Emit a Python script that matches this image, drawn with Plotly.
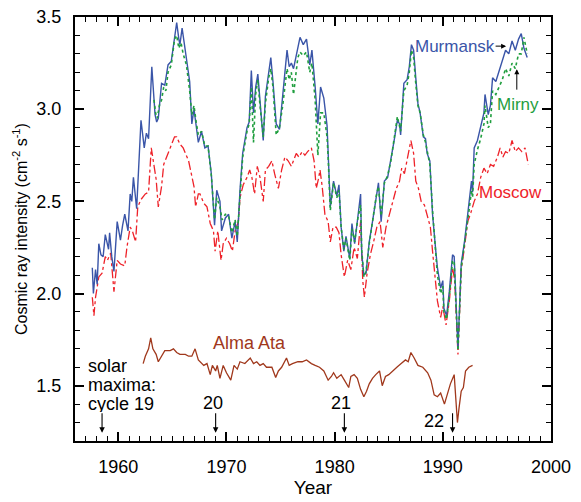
import plotly.graph_objects as go

# ---------------- data ----------------
mur_year = [1957.6, 1957.7, 1957.9, 1958.05, 1958.2, 1958.4, 1958.6, 1958.8, 1959.1, 1959.2, 1959.4, 1959.6,
            1959.9, 1960.2, 1960.4, 1960.6, 1960.9, 1961.1, 1961.25, 1961.4, 1961.7, 1961.9, 1962.1, 1962.4,
            1962.6, 1962.8, 1963.1, 1963.4, 1963.55, 1963.7, 1964.0, 1964.3, 1964.6, 1964.9, 1965.25, 1965.4,
            1965.6, 1965.7, 1965.9, 1966.1, 1966.3, 1966.6, 1966.8, 1967.0, 1967.2, 1967.4, 1967.7, 1968.0,
            1968.3, 1968.6, 1968.9, 1969.1, 1969.4, 1969.55, 1969.9, 1970.2, 1970.5, 1970.8, 1971.0, 1971.25,
            1971.5, 1971.9, 1972.1, 1972.3, 1972.5, 1972.7, 1972.9, 1973.1, 1973.4, 1973.6, 1973.9, 1974.1,
            1974.3, 1974.6, 1974.9, 1975.2, 1975.4, 1975.6, 1975.8, 1976.0, 1976.2, 1976.6, 1976.8, 1977.1,
            1977.4, 1977.7, 1977.9, 1978.2, 1978.45, 1978.7, 1979.0, 1979.3, 1979.4, 1979.6, 1979.9, 1980.2,
            1980.4, 1980.6, 1980.85, 1981.05, 1981.4, 1981.6, 1981.85, 1982.15, 1982.4, 1982.5, 1982.7, 1982.9,
            1983.2, 1983.5, 1983.85, 1984.05, 1984.3, 1984.6, 1984.9, 1985.2, 1985.5, 1985.8, 1986.0, 1986.1,
            1986.4, 1986.7, 1986.9, 1987.1, 1987.3, 1987.5, 1987.7, 1987.9, 1988.2, 1988.4, 1988.55, 1988.8,
            1989.05, 1989.35, 1989.5, 1989.8, 1990.0, 1990.1, 1990.35, 1990.6, 1990.9, 1991.05, 1991.2, 1991.4,
            1991.7, 1992.0, 1992.3, 1992.4, 1992.65, 1992.75, 1992.9, 1993.2, 1993.5, 1993.8, 1993.9, 1994.2,
            1994.4, 1994.6, 1994.9, 1995.2, 1995.5, 1995.8, 1996.1, 1996.4, 1996.7, 1997.0, 1997.25, 1997.5,
            1997.8]
mur_val = [2.14, 2.00, 2.13, 2.05, 2.27, 2.21, 2.20, 2.32, 2.24, 2.33, 2.20, 2.12,
           2.39, 2.29, 2.37, 2.43, 2.34, 2.54, 2.50, 2.63, 2.46, 2.70, 2.94, 2.79,
           2.87, 2.84, 3.23, 2.97, 2.93, 2.95, 3.14, 3.13, 3.24, 3.26, 3.43, 3.47,
           3.38, 3.35, 3.44, 3.36, 3.28, 3.15, 2.92, 3.00, 2.91, 2.82, 2.88, 2.79,
           2.80, 2.65, 2.37, 2.56, 2.50, 2.34, 2.41, 2.43, 2.30, 2.39, 2.28, 2.56,
           2.76, 2.90, 2.93, 3.21, 2.98, 3.12, 3.19, 3.04, 2.83, 3.07, 3.21, 3.28,
           3.15, 2.92, 2.89, 3.06, 3.21, 3.32, 3.23, 3.25, 3.22, 3.34, 3.39, 3.35,
           3.38, 3.24, 3.32, 3.12, 2.92, 3.12, 3.06, 2.91, 2.76, 2.47, 2.61, 2.53,
           2.59, 2.36, 2.23, 2.31, 2.19, 2.38, 2.27, 2.43, 2.54, 2.22, 2.10, 2.11,
           2.28, 2.39, 2.54, 2.60, 2.39, 2.61, 2.63, 2.72, 2.83, 2.94, 2.92, 2.86,
           3.14, 3.16, 3.23, 3.35, 3.32, 3.17, 3.03, 2.98, 2.85, 2.84, 2.76, 2.72,
           2.43, 2.23, 2.14, 2.03, 2.07, 1.92, 1.88, 2.01, 2.21, 2.20, 1.99, 1.70,
           2.16, 2.28, 2.43, 2.48, 2.61, 2.55, 2.79, 2.83, 2.90, 2.98, 3.08, 2.97,
           3.02, 3.17, 3.15, 3.21, 3.26, 3.32, 3.30, 3.37, 3.32, 3.38, 3.41, 3.33,
           3.28]

mir_year = [1963.3, 1963.45, 1963.6, 1963.8, 1964.0, 1964.2, 1964.4, 1964.6, 1964.9, 1965.2, 1965.4, 1965.6,
            1965.8, 1966.0, 1966.3, 1966.6, 1966.8, 1967.0, 1967.2, 1967.4, 1967.7, 1968.0, 1968.3, 1968.6,
            1968.9, 1969.1, 1969.4, 1969.6, 1969.9, 1970.2, 1970.5, 1970.8, 1971.0, 1971.25, 1971.5, 1971.9,
            1972.1, 1972.3, 1972.5, 1972.7, 1972.9, 1973.1, 1973.4, 1973.6, 1973.9, 1974.1, 1974.3, 1974.6,
            1974.9, 1975.2, 1975.4, 1975.6, 1975.8, 1976.0, 1976.2, 1976.6, 1976.8, 1977.1, 1977.4, 1977.7,
            1977.9, 1978.2, 1978.45, 1978.7, 1979.0, 1979.3, 1979.4, 1979.6, 1979.9, 1980.2, 1980.4, 1980.6,
            1980.85, 1981.05, 1981.4, 1981.6, 1981.85, 1982.15, 1982.4, 1982.5, 1982.7, 1982.9, 1983.2, 1983.5,
            1983.85, 1984.05, 1984.3, 1984.6, 1984.9, 1985.2, 1985.5, 1985.8, 1986.1, 1986.4, 1986.7, 1986.9,
            1987.1, 1987.3, 1987.5, 1987.7, 1987.9, 1988.2, 1988.4, 1988.55, 1988.8, 1989.05, 1989.35, 1989.5,
            1989.8, 1990.0, 1990.1, 1990.35, 1990.6, 1990.9, 1991.05, 1991.2, 1991.4, 1991.7, 1992.0, 1992.3,
            1992.4, 1992.65, 1992.75, 1992.9, 1993.2, 1993.5, 1993.8, 1993.9, 1994.2, 1994.4, 1994.6, 1994.9,
            1995.2, 1995.5, 1995.8, 1996.1, 1996.4, 1996.7, 1997.0, 1997.25, 1997.5, 1997.8]
mir_val = [3.05, 2.98, 2.95, 3.02, 3.05, 3.12, 3.10, 3.20, 3.24, 3.38, 3.40, 3.33,
           3.36, 3.30, 3.24, 3.10, 2.97, 3.02, 2.93, 2.86, 2.88, 2.80, 2.80, 2.64,
           2.40, 2.52, 2.47, 2.40, 2.43, 2.42, 2.33, 2.40, 2.31, 2.54, 2.74, 2.88,
           2.92, 3.12, 2.82, 3.08, 3.16, 3.02, 2.85, 3.03, 3.17, 3.22, 3.12, 2.86,
           2.90, 3.02, 3.14, 3.22, 3.16, 3.20, 3.08, 3.28, 3.31, 3.29, 3.31, 3.20,
           3.25, 3.05, 2.75, 2.98, 2.98, 2.85, 2.74, 2.45, 2.60, 2.52, 2.56, 2.36,
           2.24, 2.30, 2.18, 2.35, 2.28, 2.41, 2.48, 2.24, 2.09, 2.12, 2.27, 2.40,
           2.53, 2.58, 2.42, 2.60, 2.64, 2.72, 2.85, 2.96, 2.88, 3.10, 3.13, 3.20,
           3.32, 3.28, 3.14, 3.02, 2.98, 2.86, 2.82, 2.77, 2.70, 2.45, 2.20, 2.10,
           2.00, 2.04, 1.90, 1.86, 1.98, 2.18, 2.17, 1.97, 1.69, 2.14, 2.26, 2.40,
           2.44, 2.56, 2.52, 2.70, 2.78, 2.84, 2.92, 3.02, 2.90, 2.92, 3.10, 3.08,
           3.12, 3.16, 3.22, 3.18, 3.25, 3.22, 3.30, 3.30, 3.39, 3.30]

mos_year = [1957.6, 1957.75, 1957.9, 1958.2, 1958.5, 1958.8, 1959.0, 1959.3, 1959.6, 1959.9, 1960.2, 1960.6,
            1960.8, 1961.1, 1961.3, 1961.6, 1961.8, 1962.1, 1962.5, 1962.8, 1963.05, 1963.3, 1963.5, 1963.7,
            1964.0, 1964.2, 1964.5, 1964.8, 1965.2, 1965.4, 1965.7, 1966.0, 1966.5, 1966.75, 1967.0, 1967.15,
            1967.4, 1967.55, 1967.9, 1968.2, 1968.5, 1968.8, 1968.95, 1969.2, 1969.5, 1969.7, 1970.0, 1970.3,
            1970.55, 1970.8, 1971.1, 1971.25, 1971.55, 1971.9, 1972.15, 1972.35, 1972.6, 1972.85, 1973.1, 1973.4,
            1973.6, 1973.9, 1974.2, 1974.45, 1974.8, 1975.1, 1975.4, 1975.7, 1976.0, 1976.45, 1976.7, 1977.0,
            1977.25, 1977.5, 1977.85, 1978.1, 1978.3, 1978.5, 1978.65, 1978.85, 1979.1, 1979.4, 1979.6, 1979.85,
            1980.15, 1980.4, 1980.6, 1980.9, 1981.2, 1981.5, 1981.8, 1982.1, 1982.4, 1982.6, 1982.75, 1983.0,
            1983.3, 1983.6, 1983.9, 1984.2, 1984.45, 1984.75, 1985.05, 1985.35, 1985.7, 1986.0, 1986.2, 1986.45,
            1986.75, 1987.05, 1987.3, 1987.5, 1987.75, 1988.0, 1988.3, 1988.6, 1988.85, 1989.05, 1989.3, 1989.5,
            1989.8, 1990.0, 1990.3, 1990.6, 1990.9, 1991.1, 1991.4, 1991.7, 1992.0, 1992.3, 1992.6, 1992.9,
            1993.2, 1993.5, 1993.8, 1994.1, 1994.4, 1994.7, 1995.05, 1995.3, 1995.55, 1995.8, 1996.1, 1996.4,
            1996.7, 1997.0, 1997.3, 1997.6, 1997.9]
mos_val = [1.98, 1.88, 1.98, 2.09, 2.11, 2.20, 2.18, 2.22, 2.01, 2.18, 2.16, 2.15,
           2.25, 2.36, 2.34, 2.28, 2.47, 2.51, 2.54, 2.55, 2.79, 2.70, 2.62, 2.47,
           2.58, 2.70, 2.74, 2.79, 2.85, 2.85, 2.81, 2.79, 2.72, 2.64, 2.58, 2.47,
           2.54, 2.54, 2.49, 2.47, 2.38, 2.34, 2.23, 2.34, 2.18, 2.27, 2.30, 2.27,
           2.23, 2.34, 2.39, 2.52, 2.59, 2.63, 2.67, 2.63, 2.54, 2.69, 2.63, 2.50,
           2.67, 2.69, 2.72, 2.65, 2.57, 2.67, 2.74, 2.72, 2.69, 2.76, 2.74, 2.77,
           2.75, 2.77, 2.79, 2.72, 2.57, 2.62, 2.67, 2.58, 2.43, 2.39, 2.28, 2.36,
           2.36, 2.33, 2.21, 2.09, 2.18, 2.13, 2.25, 2.19, 2.39, 2.07, 1.98, 2.11,
           2.21, 2.28, 2.36, 2.39, 2.25, 2.36, 2.43, 2.50, 2.57, 2.61, 2.68, 2.65,
           2.74, 2.83, 2.76, 2.61, 2.57, 2.50, 2.48, 2.41, 2.36, 2.23, 2.07, 1.96,
           1.87, 1.93, 1.83, 1.96, 2.14, 2.07, 1.67, 2.13, 2.25, 2.39, 2.44, 2.50,
           2.54, 2.63, 2.68, 2.65, 2.70, 2.69, 2.74, 2.79, 2.74, 2.77, 2.76, 2.83,
           2.77, 2.79, 2.77, 2.79, 2.70]

alm_year = [1962.3, 1962.4, 1962.5, 1962.8, 1963.0, 1963.2, 1963.5, 1963.7, 1964.0, 1964.3, 1964.8, 1965.1,
            1965.4, 1965.7, 1966.2, 1966.5, 1966.8, 1967.1, 1967.4, 1967.9, 1968.2, 1968.5, 1968.7, 1969.0,
            1969.15, 1969.4, 1969.7, 1970.0, 1970.4, 1970.7, 1971.0, 1971.25, 1971.7, 1972.2, 1972.5, 1972.8,
            1973.1, 1973.4, 1973.7, 1974.2, 1974.55, 1974.8, 1975.1, 1975.55, 1975.8, 1976.1, 1976.6, 1977.0,
            1977.4, 1977.85, 1978.2, 1978.6, 1979.0, 1979.4, 1979.7, 1979.9, 1980.2, 1980.6, 1980.9, 1981.3,
            1981.5, 1981.8, 1982.1, 1982.4, 1982.7, 1982.95, 1983.2, 1983.5, 1983.8, 1984.15, 1984.4, 1984.7,
            1985.0, 1985.35, 1985.75, 1986.15, 1986.55, 1986.8, 1987.05, 1987.35, 1987.7, 1988.15, 1988.6, 1988.9,
            1989.2, 1989.5, 1989.8, 1990.15, 1990.45, 1990.7, 1991.05, 1991.2, 1991.35, 1991.5, 1991.7, 1991.9,
            1992.1, 1992.4, 1992.75]
alm_val = [1.62, 1.64, 1.66, 1.70, 1.76, 1.70, 1.67, 1.63, 1.66, 1.69, 1.69, 1.70,
           1.68, 1.67, 1.67, 1.66, 1.66, 1.70, 1.64, 1.61, 1.62, 1.56, 1.61, 1.58,
           1.61, 1.54, 1.61, 1.57, 1.53, 1.61, 1.59, 1.63, 1.62, 1.65, 1.62, 1.63,
           1.61, 1.62, 1.60, 1.60, 1.545, 1.58, 1.60, 1.65, 1.61, 1.62, 1.63, 1.63,
           1.64, 1.62, 1.61, 1.60, 1.58, 1.53, 1.55, 1.57, 1.54, 1.56, 1.53, 1.49,
           1.55, 1.56, 1.54, 1.48, 1.44, 1.47, 1.51, 1.54, 1.56, 1.58, 1.50, 1.55,
           1.56, 1.58, 1.60, 1.62, 1.64, 1.63, 1.68, 1.65, 1.61, 1.60, 1.57, 1.53,
           1.45, 1.44, 1.46, 1.40, 1.46, 1.51, 1.56, 1.44, 1.30, 1.38, 1.47, 1.49,
           1.58, 1.60, 1.61]

solar_max_year = [1958.5, 1969.0, 1980.9, 1990.9]
x_ticks = [1960, 1970, 1980, 1990, 2000]
y_ticks = [1.5, 2.0, 2.5, 3.0, 3.5]
y_tick_text = ["1.5", "2.0", "2.5", "3.0", "3.5"]

BLUE = "#3a55a8"
GREEN = "#1f9e3e"
RED = "#ee2229"
BROWN = "#a0381c"
FONT = "Liberation Sans, Arial, Helvetica, sans-serif"

fig = go.Figure()
fig.add_trace(go.Scatter(x=alm_year, y=alm_val, mode="lines",
                         line=dict(color=BROWN, width=1.3), name="Alma Ata"))
fig.add_trace(go.Scatter(x=mos_year, y=mos_val, mode="lines",
                         line=dict(color=RED, width=1.3, dash="dashdot"), name="Moscow"))
fig.add_trace(go.Scatter(x=mur_year, y=mur_val, mode="lines",
                         line=dict(color=BLUE, width=1.4), name="Murmansk"))
fig.add_trace(go.Scatter(x=mir_year, y=mir_val, mode="lines",
                         line=dict(color=GREEN, width=1.6, dash="dot"), name="Mirny"))

ann = []
# series labels
ann.append(dict(x=1991.15, y=3.342, text="Murmansk", showarrow=False,
                font=dict(color=BLUE, size=17)))
ann.append(dict(x=1995.85, y=3.342, text="", showarrow=True, ax=-12, ay=0,
                arrowhead=2, arrowsize=1, arrowwidth=1, arrowcolor="black"))
ann.append(dict(x=1996.95, y=3.027, text="Mirny", showarrow=False,
                font=dict(color=GREEN, size=17)))
ann.append(dict(x=1996.84, y=3.217, text="", showarrow=True, ax=0, ay=22,
                arrowhead=2, arrowsize=1, arrowwidth=1, arrowcolor="black"))
ann.append(dict(x=1996.3, y=2.549, text="Moscow", showarrow=False,
                font=dict(color=RED, size=17)))
ann.append(dict(x=1972.17, y=1.732, text="Alma Ata", showarrow=False,
                font=dict(color=BROWN, size=18)))
# solar maxima text
for txt, yy in [("solar", 1.607), ("maxima:", 1.505), ("cycle 19", 1.406)]:
    ann.append(dict(x=1957.14, y=yy, text=txt, showarrow=False, xanchor="left",
                    height=17, borderpad=0, font=dict(color="black", size=18)))
ann.append(dict(x=1968.76, y=1.406, text="20", showarrow=False,
                font=dict(color="black", size=18)))
ann.append(dict(x=1980.6, y=1.406, text="21", showarrow=False,
                font=dict(color="black", size=18)))
ann.append(dict(x=1989.2, y=1.306, text="22", showarrow=False,
                font=dict(color="black", size=18)))
for yr in solar_max_year:
    ann.append(dict(x=yr, y=1.245, text="", showarrow=True, ax=0, ay=-21,
                    arrowhead=2, arrowsize=1, arrowwidth=1.1, arrowcolor="black"))
# y-axis title
ann.append(dict(xref="paper", yref="paper", x=-0.1155, y=0.5,
                text="Cosmic ray intensity (cm<sup>-2</sup> s<sup>-1</sup>)",
                textangle=-90, showarrow=False, xanchor="center", yanchor="middle",
                font=dict(color="black", size=16)))
for a in ann:
    a.setdefault("xref", "x")
    a.setdefault("yref", "y")

fig.update_layout(
    width=581, height=502,
    margin=dict(l=75, r=30, t=17, b=61),
    paper_bgcolor="white", plot_bgcolor="white",
    showlegend=False,
    font=dict(family=FONT, color="black", size=18),
    annotations=ann,
)
fig.update_xaxes(range=[1956, 2000], tickvals=x_ticks, ticks="inside", ticklen=9, tickwidth=1.5,
                 tickcolor="black", showline=True, linecolor="black", linewidth=2,
                 mirror="allticks", showgrid=False, zeroline=False, automargin=False,
                 minor=dict(dtick=1, tick0=1956, ticks="inside", ticklen=5, tickwidth=1.2, tickcolor="black"),
                 tickfont=dict(size=18), ticklabelstandoff=8,
                 title=dict(text="Year", font=dict(size=19), standoff=4))
fig.update_yaxes(range=[1.2, 3.5], tickvals=y_ticks, ticktext=y_tick_text, ticks="inside", ticklen=9,
                 tickwidth=1.5, tickcolor="black", showline=True, linecolor="black", linewidth=2,
                 mirror="allticks", showgrid=False, zeroline=False, automargin=False,
                 minor=dict(dtick=0.1, tick0=1.2, ticks="inside", ticklen=5, tickwidth=1.2, tickcolor="black"),
                 tickfont=dict(size=18), ticklabelstandoff=8)

fig.write_html("out.html")
